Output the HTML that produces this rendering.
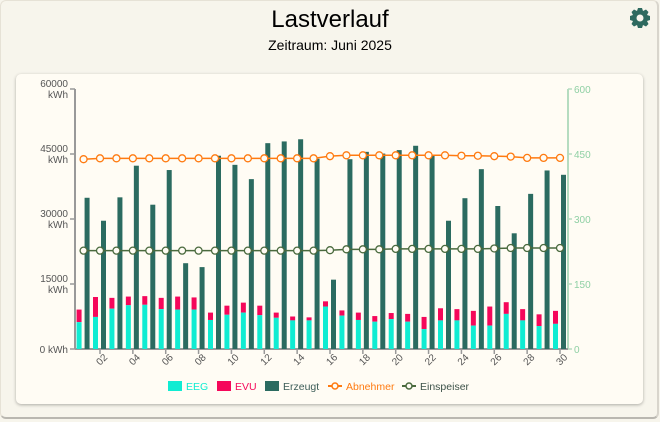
<!DOCTYPE html>
<html><head><meta charset="utf-8">
<style>
html,body{margin:0;padding:0;}
body{width:660px;height:422px;background:#f7f5ec;font-family:"Liberation Sans",sans-serif;position:relative;overflow:hidden;}
#frame{position:absolute;left:0;top:0;width:656px;height:416px;border:1px solid #e6e2d6;border-radius:6px;border-bottom:2px solid #b9b7b0;border-right:2px solid #d8d5cc;}
#title{position:absolute;left:0;width:660px;top:6px;text-align:center;font-size:24px;color:#000;}
#sub{position:absolute;left:0;width:660px;top:37px;text-align:center;font-size:14px;color:#000;}
#card{position:absolute;left:16px;top:74px;width:627px;height:330px;background:#fffcf4;border-radius:5px;box-shadow:0 1px 3px rgba(0,0,0,0.3);}
svg{position:absolute;left:0;top:0;}
</style></head>
<body>
<div id="frame"></div>
<div id="title">Lastverlauf</div>
<div id="sub">Zeitraum: Juni 2025</div>
<svg width="660" height="422" style="pointer-events:none">
<g transform="translate(640,18)">
<path d="M-2,-10 L2,-10 L3,-7 L6,-8.5 L8.5,-6 L7,-3 L10,-2 L10,2 L7,3 L8.5,6 L6,8.5 L3,7 L2,10 L-2,10 L-3,7 L-6,8.5 L-8.5,6 L-7,3 L-10,2 L-10,-2 L-7,-3 L-8.5,-6 L-6,-8.5 L-3,-7 Z" fill="#2e6a5f"/>
<circle r="3.5" fill="#f7f5ec"/>
</g>
</svg>
<div id="card"></div>
<svg id="chart" width="660" height="422"></svg>
<script>
const days = [];
for (let i = 1; i <= 30; i++) days.push(i);
const eeg = [6200,7400,9300,10100,10200,9200,9100,9100,6700,7900,8400,7800,7200,6600,6600,9800,7700,6700,6300,6900,6300,4600,6600,6600,5400,5400,8100,6600,5300,5800];
const evuTotal = [9100,12000,11800,12100,12200,11800,12100,11900,8400,10000,10700,10000,8400,7500,7300,11000,8900,8400,7600,8300,8100,7400,9400,9200,8800,9800,10800,9200,8000,8800];
const erzeugt = [34900,29600,35000,42300,33300,41300,19800,18900,44600,42500,39200,47500,47900,48400,43900,16000,43800,45500,45100,45900,46900,44600,29600,34800,41500,33000,26700,35800,41200,40200];
const abnehmer = [438,440,440,440,440,440,440,440,440,440,440,440,440,440,440,445,447,447,447,447,447,447,447,446,446,445,444,441,441,441];
const einspeiser = [227,227,227,227,227,227,227,227,227,227,227,227,227,227,227,228,230,230,230,231,231,231,231,231,231,232,233,233,233,233];
const leftTicks = [0,15000,30000,45000,60000];
const rightTicks = [0,150,300,450,600];

const NS = "http://www.w3.org/2000/svg";
const svg = document.getElementById('chart');
const X0 = 75, X1 = 568, Y0 = 349, Y1 = 89;
const xDay = d => 100 + (d - 2) * (460 / 28);
const yL = v => Y0 - v / 60000 * (Y0 - Y1);
const yR = v => Y0 - v / 600 * (Y0 - Y1);
function el(tag, attrs, parent) {
  const e = document.createElementNS(NS, tag);
  for (const k in attrs) e.setAttribute(k, attrs[k]);
  (parent || svg).appendChild(e);
  return e;
}
let a = el('line', {x1:X0, y1:Y1, x2:X0, y2:Y0, stroke:'#999', 'stroke-width':2});


a = el('line', {x1:X1, y1:Y1, x2:X1, y2:Y0, stroke:'#b5dcc0', 'stroke-width':2});


a = el('line', {x1:X0, y1:Y0, x2:X1, y2:Y0, stroke:'#999', 'stroke-width':2});



leftTicks.forEach(v => {
  const y = yL(v);
  el('line', {x1:X0-5, y1:y, x2:X0, y2:y, stroke:'#999', 'stroke-width':1.5});
  const t = el('text', {x:X0-7, y: v === 0 ? y+4 : y-2, 'text-anchor':'end', 'font-size':10, fill:'#555', 'font-family':'Liberation Sans, sans-serif'});
  
  
  if (v === 0) { t.textContent = '0 kWh'; }
  else {
    t.textContent = String(v);
    const t2 = el('text', {x:X0-7, y:y+9, 'text-anchor':'end', 'font-size':10, fill:'#555', 'font-family':'Liberation Sans, sans-serif'});
    t2.textContent = 'kWh';
  }
});
rightTicks.forEach(v => {
  const y = yR(v);
  el('line', {x1:X1, y1:y, x2:X1+4, y2:y, stroke:'#b5dcc0', 'stroke-width':1.5});
  const t = el('text', {x:X1+6, y:y+4, 'font-size':10, fill:'#8fd0a4', 'font-family':'Liberation Sans, sans-serif'});
  
  
  t.textContent = String(v);
});
days.forEach(d => {
  if (d % 2 === 0) {
    const x = xDay(d);
    el('line', {x1:x, y1:Y0, x2:x, y2:Y0+5, stroke:'#999', 'stroke-width':1.5});
    const lx = x + 8, ly = Y0 + 9;
    const t = el('text', {x:lx, y:ly, 'text-anchor':'end', 'font-size':10, fill:'#555', transform:`rotate(-45 ${lx} ${ly})`, 'font-family':'Liberation Sans, sans-serif'});
    
    
    t.textContent = String(d).padStart(2, '0');
  }
});
days.forEach((d, i) => {
  const x = xDay(d);
  let r = el('rect', {x:x-7, y:yL(evuTotal[i]), width:5, height:yL(eeg[i]) - yL(evuTotal[i]), fill:'#f5075a'});
  
  
  r = el('rect', {x:x-7, y:yL(eeg[i]), width:5, height:Y0 - yL(eeg[i]), fill:'#10ecd2'});
  
  
  r = el('rect', {x:x+1, y:yL(erzeugt[i]), width:5, height:Y0 - yL(erzeugt[i]), fill:'#2b6b60'});
  
  
});
function series(vals, color, name) {
  const pts = days.map((d, i) => xDay(d) + ',' + yR(vals[i])).join(' ');
  const p = el('polyline', {points:pts, fill:'none', stroke:color, 'stroke-width':1.5});
  
  
  days.forEach((d, i) => {
    const c = el('circle', {cx:xDay(d), cy:yR(vals[i]), r:3.5, fill:'#fffcf4', stroke:color, 'stroke-width':1.3});
    
    
  });
}
series(abnehmer, '#ff7a10', 'abnehmer');
series(einspeiser, '#4a6a3e', 'einspeiser');
const lg = el('g', {});


function legBox(x, color, txt, tcol, name) {
  const g = el('g', {}, lg);
  
  
  el('rect', {x:x, y:381, width:14, height:10, fill:color}, g);
  const t = el('text', {x:x+18, y:390, 'font-size':10.5, fill:tcol, 'font-family':'Liberation Sans, sans-serif'}, g);
  t.textContent = txt;
}
function legLine(x, color, txt, tcol, name) {
  const g = el('g', {}, lg);
  
  
  el('line', {x1:x, y1:386, x2:x+14, y2:386, stroke:color, 'stroke-width':2}, g);
  el('circle', {cx:x+7, cy:386, r:3, fill:'#fffcf4', stroke:color, 'stroke-width':1.5}, g);
  const t = el('text', {x:x+18, y:390, 'font-size':10.5, fill:tcol, 'font-family':'Liberation Sans, sans-serif'}, g);
  t.textContent = txt;
}
legBox(168, '#10ecd2', 'EEG', '#10ecd2', 'legend-entry-eeg');
legBox(217, '#f5075a', 'EVU', '#f5075a', 'legend-entry-evu');
legBox(265, '#2b6b60', 'Erzeugt', '#3d5d58', 'legend-entry-erzeugt');
legLine(328, '#ff7a10', 'Abnehmer', '#ff7a10', 'legend-entry-abnehmer');
legLine(402, '#4a6a3e', 'Einspeiser', '#3d5249', 'legend-entry-einspeiser');
</script>
</body></html>
